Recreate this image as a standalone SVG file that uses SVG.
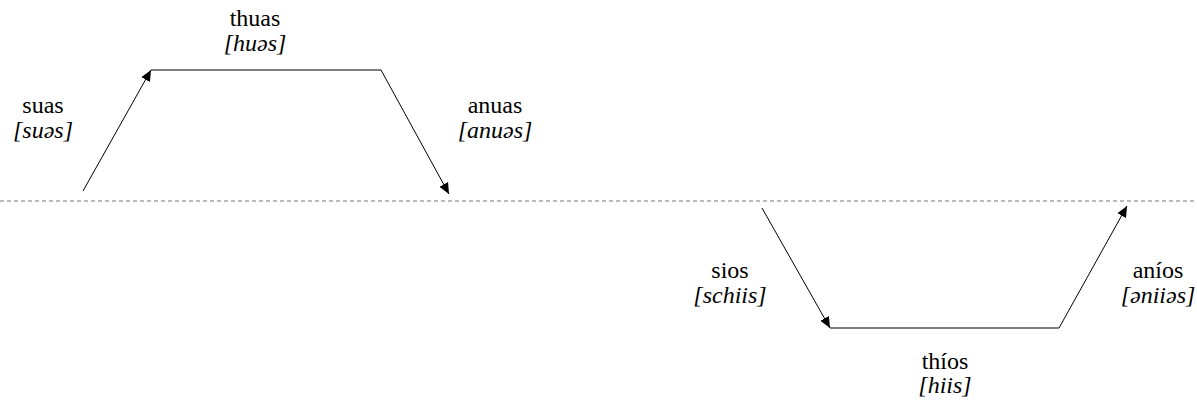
<svg xmlns="http://www.w3.org/2000/svg" width="1197" height="402" viewBox="0 0 1197 402">
<style>
.t{font-family:'Liberation Serif','Times New Roman',serif;font-size:24px;fill:#000;text-anchor:middle}
.i{font-style:italic}
</style>
<defs>
<marker id="ah" viewBox="0 0 10 10" refX="10" refY="5" markerWidth="11" markerHeight="11" markerUnits="userSpaceOnUse" orient="auto">
<path d="M0,0.5 L10,5 L0,9.5 z" fill="#000"/>
</marker>
</defs>
<line x1="0" y1="201" x2="1197" y2="201" stroke="#777" stroke-width="1" stroke-dasharray="4,3"/>
<g id="connectors" stroke="#000" stroke-width="1" fill="none">
<line x1="83" y1="191" x2="151" y2="70" marker-end="url(#ah)"/>
<line x1="151" y1="70" x2="381" y2="70"/>
<line x1="381" y1="70" x2="449" y2="194" marker-end="url(#ah)"/>
<line x1="762" y1="208" x2="830" y2="328" marker-end="url(#ah)"/>
<line x1="830" y1="328" x2="1059" y2="328"/>
<line x1="1059" y1="328" x2="1127" y2="206" marker-end="url(#ah)"/>
</g>
<g id="thuas"><text class="t" x="255" y="26">thuas</text><text class="t i" x="255" y="51">[huəs]</text></g>
<g id="suas"><text class="t" x="43" y="113">suas</text><text class="t i" x="43" y="138">[suəs]</text></g>
<g id="anuas"><text class="t" x="495" y="113">anuas</text><text class="t i" x="495" y="138">[anuəs]</text></g>
<g id="sios"><text class="t" x="730" y="278">sios</text><text class="t i" x="730" y="303">[schiis]</text></g>
<g id="anios"><text class="t" x="1158" y="278">aníos</text><text class="t i" x="1158" y="303">[əniiəs]</text></g>
<g id="thios"><text class="t" x="945" y="369">thíos</text><text class="t i" x="945" y="393">[hiis]</text></g>
</svg>
